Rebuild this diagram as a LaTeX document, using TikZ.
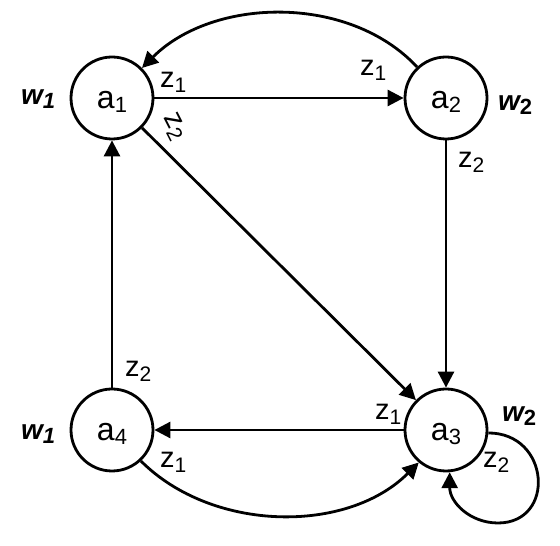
\documentclass[tikz,border=0pt]{standalone}
\usepackage{fontspec}
\setmainfont{Liberation Sans}
\usetikzlibrary{arrows.meta}
\newcommand{\nsub}[2]{#1\raisebox{-4pt}{\fontsize{22}{22}\selectfont #2}}
\newcommand{\lsub}[2]{#1\raisebox{-5pt}{\fontsize{21}{21}\selectfont #2}}
\begin{document}
\begin{tikzpicture}[x=1pt,y=1pt,
  st/.style={circle,draw,line width=2.8pt,minimum size=82pt,inner sep=0pt,
    text height=21pt,text depth=0pt,font=\fontsize{32}{32}\selectfont},
  edge/.style={line width=2.8pt,-{Triangle[length=16pt,width=16pt]}},
  lbl/.style={anchor=base west,inner sep=0pt,font=\fontsize{29}{29}\selectfont},
  wl/.style={anchor=base west,inner sep=0pt,font=\fontsize{28}{28}\selectfont\bfseries\itshape}]
\useasboundingbox (0,0) rectangle (560,546);
\node[st] (a1) at (112,448) {\nsub{a}{1}};
\node[st] (a2) at (446,448) {\nsub{a}{2}};
\node[st] (a3) at (446,116) {\nsub{a}{3}};
\node[st] (a4) at (112,116) {\nsub{a}{4}};
% weights
\node[wl] (w1a) at (21,441) {w\raisebox{-4pt}{\fontsize{22}{22}\selectfont 1}};
\node[wl] (w2a) at (498,435) {w\raisebox{-4pt}{\fontsize{22}{22}\selectfont\upshape 2}};
\node[wl] (w1b) at (21,106) {w\raisebox{-4pt}{\fontsize{22}{22}\selectfont 1}};
\node[wl] (w2b) at (502,124) {w\raisebox{-4pt}{\fontsize{22}{22}\selectfont\upshape 2}};
% edges
\coordinate (lp) at (498,23);
\draw[edge] (a2.133) to[out=133,in=45,looseness=0.93] (a1.45);
\draw[edge] (a1) -- (a2);
\draw[edge] (a1) -- (a3);
\draw[edge] (a2) -- (a3);
\draw[edge] (a3) -- (a4);
\draw[edge] (a4) -- (a1);
\draw[edge] (a4.-47) to[out=-45,in=-135,looseness=0.93] (a3.-130);
\draw[edge] (a3.-4) .. controls +(62,0) and +(58,0) .. (lp)
  .. controls +(-28,0) and +(0,-30) .. (a3.-85);
% edge labels
\node[lbl] (l12) at (160,458) {\lsub{z}{1}};
\node[lbl] (l21) at (360,470) {\lsub{z}{1}};
\node[lbl,anchor=center,rotate=-63] (l13) at (174,419) {\lsub{z}{2}};
\node[lbl] (l23) at (458,378) {\lsub{z}{2}};
\node[lbl] (l41) at (125,169) {\lsub{z}{2}};
\node[lbl] (l34) at (375,126) {\lsub{z}{1}};
\node[lbl] (l43) at (160,78) {\lsub{z}{1}};
\node[lbl] (l33) at (483,78) {\lsub{z}{2}};
\end{tikzpicture}
\end{document}
